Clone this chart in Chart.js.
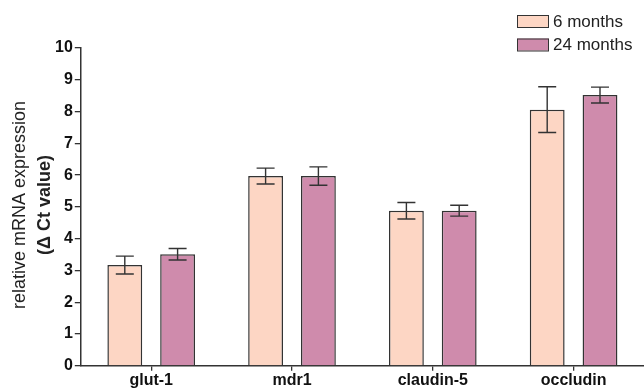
<!DOCTYPE html>
<html>
<head>
<meta charset="utf-8">
<script src="https://cdn.jsdelivr.net/npm/chart.js@4/dist/chart.umd.min.js"></script>
<style>
  html, body { margin: 0; padding: 0; background: #fff; overflow: hidden; }
  #wrap { position: relative; width: 644px; height: 389px; }
</style>
</head>
<body>
<div id="wrap"><canvas id="chart"></canvas></div>
<script>
// dados
const genes = ['glut-1', 'mdr1', 'claudin-5', 'occludin'];
const seis = [3.17, 5.97, 4.88, 8.06];
const seisErr = [0.28, 0.25, 0.26, 0.72];
const vinte4 = [3.51, 5.97, 4.88, 8.52];
const vinte4Err = [0.18, 0.29, 0.17, 0.25];
const yTicks = [0, 1, 2, 3, 4, 5, 6, 7, 8, 9, 10];

const FONT = '"Liberation Sans", Arial, sans-serif';

// ===== BARRAS DE ERRO =====
const errorBars = {
  id: 'errorBars',
  afterDatasetsDraw(chart) {
    const ctx = chart.ctx;
    const y = chart.scales.y;
    const errs = [seisErr, vinte4Err];
    ctx.save();
    ctx.strokeStyle = '#333';
    ctx.lineWidth = 1.4;
    chart.data.datasets.forEach((ds, i) => {
      chart.getDatasetMeta(i).data.forEach((bar, j) => {
        const v = ds.data[j], e = errs[i][j];
        const top = y.getPixelForValue(v + e), bot = y.getPixelForValue(v - e);
        ctx.beginPath();
        ctx.moveTo(bar.x, top); ctx.lineTo(bar.x, bot);
        ctx.moveTo(bar.x - 9, top); ctx.lineTo(bar.x + 9, top);
        ctx.moveTo(bar.x - 9, bot); ctx.lineTo(bar.x + 9, bot);
        ctx.stroke();
      });
    });
    ctx.restore();
  }
};

// ===== LEGENDA E TITULO DO EIXO =====
const extras = {
  id: 'extras',
  afterDraw(chart) {
    const ctx = chart.ctx;
    ctx.save();
    ctx.font = '17px ' + FONT;
    ctx.textBaseline = 'middle';
    chart.data.datasets.forEach((ds, i) => {
      const yy = 21 + i * 23.5;
      ctx.fillStyle = ds.backgroundColor;
      ctx.fillRect(517, yy - 6, 32, 12);
      ctx.strokeStyle = '#333';
      ctx.lineWidth = 1;
      ctx.strokeRect(517.5, yy - 5.5, 31, 12);
      ctx.fillStyle = '#222';
      ctx.textAlign = 'left';
      ctx.fillText(ds.label, 553, yy + 1);
    });

    // titulo do eixo y, duas linhas
    ctx.translate(0, 205);
    ctx.rotate(-Math.PI / 2);
    ctx.textAlign = 'center';
    ctx.fillStyle = '#222';
    ctx.font = '18px ' + FONT;
    ctx.fillText('relative mRNA expression', 0, 20);
    ctx.font = 'bold 18px ' + FONT;
    ctx.fillText('(\u0394 Ct value)', 0, 45);
    ctx.restore();
  }
};

new Chart(document.getElementById('chart'), {
  type: 'bar',
  data: {
    labels: genes,
    datasets: [
      { label: '6 months', data: seis, backgroundColor: '#FDD6C4', borderColor: '#333', borderWidth: 1.5 },
      { label: '24 months', data: vinte4, backgroundColor: '#CF8BAC', borderColor: '#333', borderWidth: 1.5 }
    ]
  },
  options: {
    responsive: true,
    maintainAspectRatio: false,
    animation: false,
    datasets: { bar: { barPercentage: 0.66, categoryPercentage: 0.75 } },
    layout: { padding: { left: 53, top: 48, right: 0, bottom: -1 } },
    plugins: { legend: { display: false }, tooltip: { enabled: false } },
    scales: {
      x: {
        grid: { display: true, drawOnChartArea: false, offset: false, tickLength: 5, color: '#333', lineWidth: 1.3 },
        border: { color: '#333', width: 1.5 },
        ticks: { color: '#111', font: { family: FONT, size: 16, weight: 'bold' }, padding: 0 }
      },
      y: {
        min: 0, max: 10,
        afterBuildTicks: s => { s.ticks = yTicks.map(v => ({ value: v })); },
        grid: { display: true, drawOnChartArea: false, tickLength: 6, color: '#333', lineWidth: 1.3 },
        border: { color: '#333', width: 1.5 },
        ticks: { color: '#111', font: { family: FONT, size: 16, weight: 'bold' }, padding: 2 }
      }
    }
  },
  plugins: [errorBars, extras]
});
</script>
</body>
</html>
